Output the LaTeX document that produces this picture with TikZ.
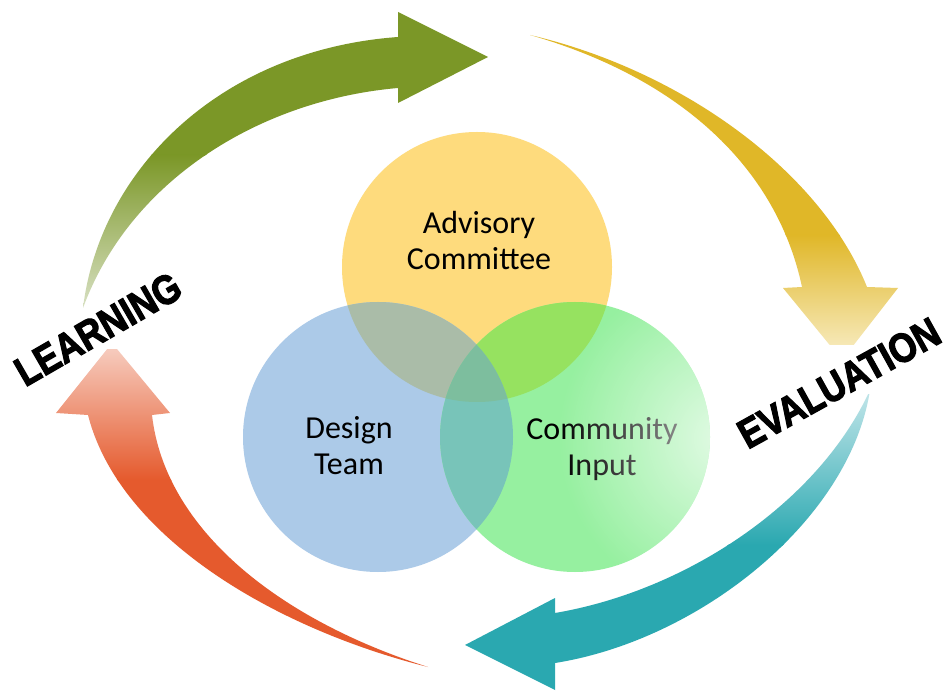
\documentclass[tikz,border=0pt]{standalone}
\usepackage{fontspec}
\setmainfont{Carlito}
\newfontfamily\heavyfont{Liberation Sans}[BoldFeatures={FakeBold=3}]
\usetikzlibrary{shadings,fadings}

% circle colours and their overlaps
\definecolor{venyel}{RGB}{254,219,125}
\definecolor{venblu}{RGB}{172,202,232}
\definecolor{vengrn}{RGB}{150,240,160}
\definecolor{venyb}{RGB}{170,188,168}
\definecolor{venyg}{RGB}{150,226,96}
\definecolor{venbg}{RGB}{120,196,185}
\definecolor{venall}{RGB}{125,190,158}
% arrow colours
\definecolor{arrgreen}{RGB}{123,151,39}
\definecolor{arrgreenlt}{RGB}{218,226,198}
\definecolor{arrgold}{RGB}{224,183,40}
\definecolor{arrgoldlt}{RGB}{246,232,182}
\definecolor{arrteal}{RGB}{42,168,176}
\definecolor{arrteallt}{RGB}{190,228,232}
\definecolor{arrorange}{RGB}{229,90,45}
\definecolor{arrorangelt}{RGB}{246,202,188}

\tikzfading[name=glowfade, inner color=transparent!0, outer color=transparent!100]

% the three sets
\def\pathYel{(477,267) circle[radius=135]}
\def\pathBlu{(378,437) circle[radius=135]}
\def\pathGrn{(575,437) circle[radius=135]}

% the four curved arrows of the cycle
\def\pathGreenArrow{(83,308) .. controls (100,170) and (220,50) .. (398,37) -- (398,12) -- (488,57) -- (398,103) -- (398,88) .. controls (260,100) and (130,180) .. (83,308) -- cycle}
\def\pathGoldArrow{(530,35) .. controls (680,70) and (820,170) .. (867,287) -- (898,288) -- (842,360) -- (783,288) -- (802,287) .. controls (775,160) and (670,75) .. (530,35) -- cycle}
\def\pathTealArrow{(870,390) .. controls (850,520) and (700,640) .. (555,663) -- (555,690) -- (465,645) -- (555,598) -- (555,613) .. controls (690,590) and (820,500) .. (870,390) -- cycle}
\def\pathOrangeArrow{(428,667) .. controls (280,630) and (120,540) .. (88,415) -- (56,413) -- (112,343) -- (170,413) -- (152,415) .. controls (165,530) and (280,620) .. (428,667) -- cycle}

\tikzset{
  setlabel/.style={align=center, inner sep=0pt, text=black,
    font=\fontsize{32}{36}\selectfont},
  stagelabel/.style={inner sep=0pt, text=black,
    font=\heavyfont\bfseries\fontsize{41}{44}\selectfont}
}

\begin{document}
\begin{tikzpicture}[x=1pt,y=-1pt]
\useasboundingbox (0,0) rectangle (948,692);
\fill[white] (0,0) rectangle (948,692);

% --- Venn diagram ---
\fill[venyel] \pathYel;
\fill[venblu] \pathBlu;
\fill[vengrn] \pathGrn;
\begin{scope}\clip \pathYel; \fill[venyb] \pathBlu; \end{scope}
\begin{scope}\clip \pathYel; \fill[venyg] \pathGrn; \end{scope}
\begin{scope}\clip \pathBlu; \fill[venbg] \pathGrn; \end{scope}
\begin{scope}\clip \pathYel; \clip \pathBlu; \fill[venall] \pathGrn; \end{scope}

\node[setlabel] (adv) at (479,241) {Advisory\\Committee};
\node[setlabel] (des) at (349,446) {Design\\Team};
\node[setlabel] (com) at (602,449) {Community\\Input};

% soft light on the right side of the green set
\begin{scope}
  \clip \pathGrn;
  \fill[white, opacity=.75, path fading=glowfade] (728,438) circle[radius=170];
\end{scope}

% --- cycle arrows ---
\begin{scope}
  \clip \pathGreenArrow;
  \fill[arrgreen] (0,0) rectangle (600,156);
  \shade[top color=arrgreen, bottom color=arrgreenlt] (0,155) rectangle (600,312);
\end{scope}
\begin{scope}
  \clip \pathGoldArrow;
  \fill[arrgold] (500,0) rectangle (948,236);
  \shade[top color=arrgold, bottom color=arrgoldlt] (500,235) rectangle (948,345);
\end{scope}
\begin{scope}
  \clip \pathTealArrow;
  \fill[arrteal] (400,544) rectangle (948,692);
  \shade[top color=arrteallt, bottom color=arrteal] (400,395) rectangle (948,545);
\end{scope}
\begin{scope}
  \clip \pathOrangeArrow;
  \fill[arrorange] (0,479) rectangle (500,692);
  \shade[top color=arrorangelt, bottom color=arrorange] (0,350) rectangle (500,480);
\end{scope}

% --- stage labels ---
\node[stagelabel, rotate=30] (learn) at (98,329) {\scalebox{.86}[1]{LEARNING}};
\node[stagelabel, rotate=29] (eval) at (839,383) {\scalebox{.86}[1]{EVALUATION}};
\end{tikzpicture}
\end{document}
